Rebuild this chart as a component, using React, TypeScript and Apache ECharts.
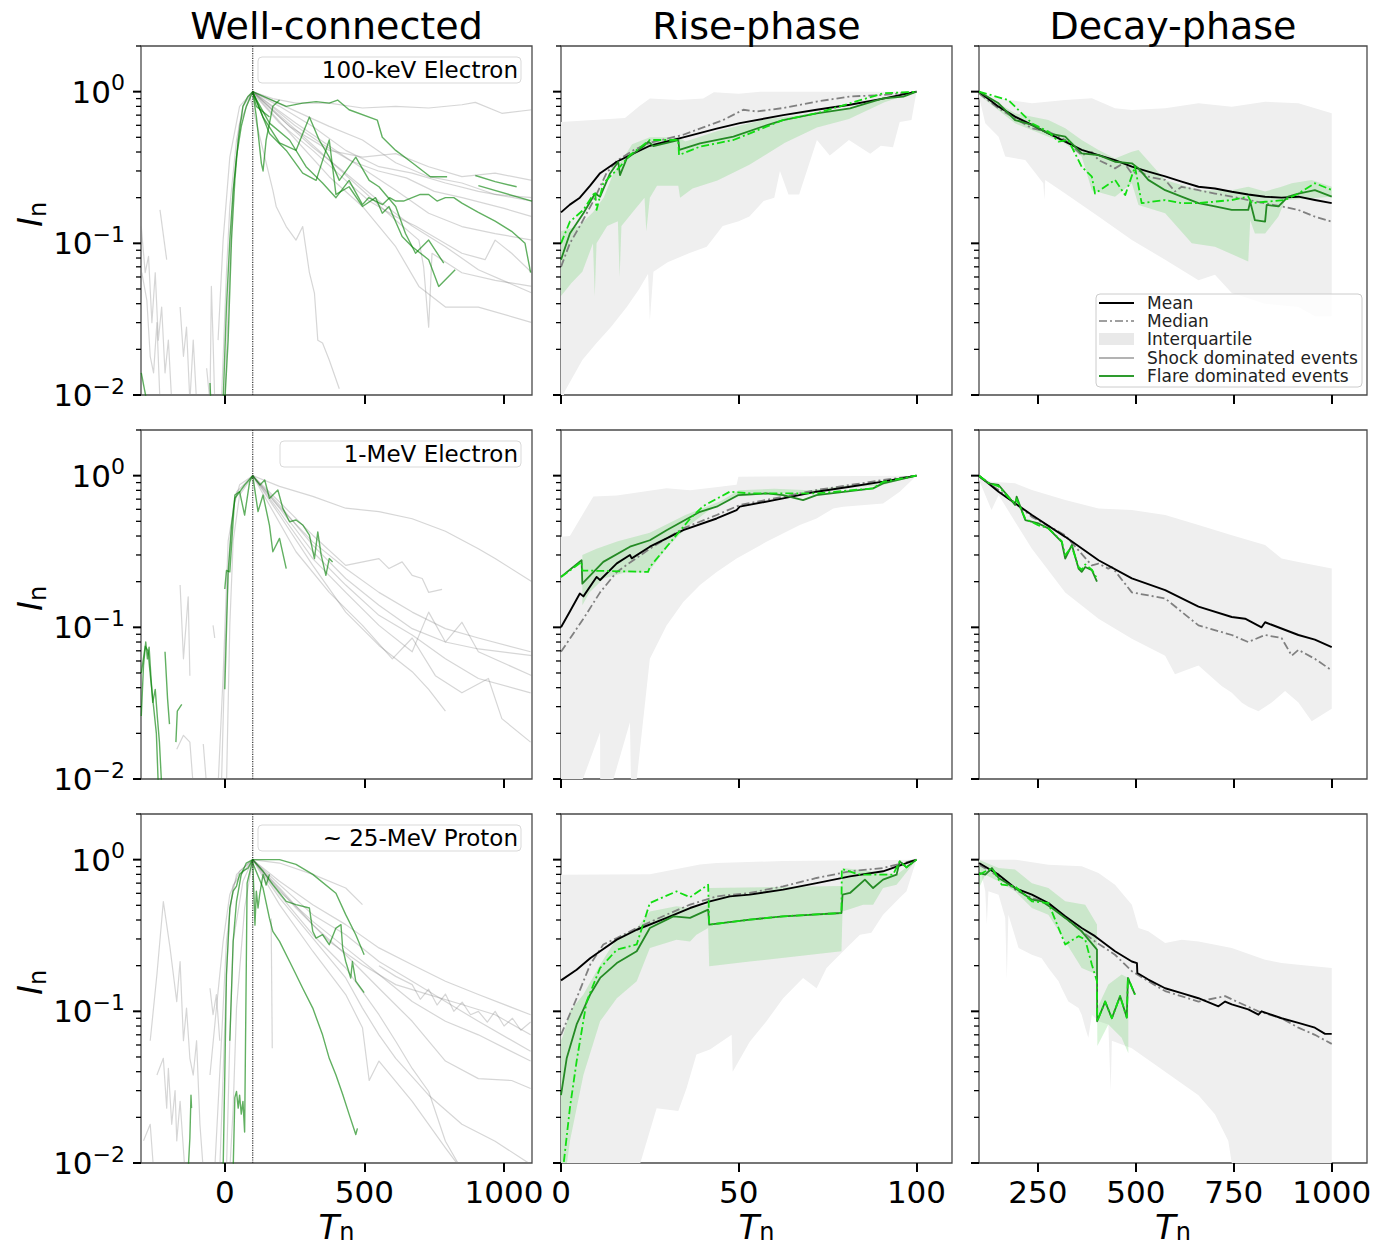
import React, { useEffect, useRef } from 'react';
import * as echarts from 'echarts';

type Pt = [number, number];

const FONT = '"DejaVu Sans", "Liberation Sans", sans-serif';

// ---------------- Text ----------------
const COLUMN_TITLES = ['Well-connected', 'Rise-phase', 'Decay-phase'];
const PANEL_LABELS = ['100-keV Electron', '1-MeV Electron', '~ 25-MeV Proton'];
const LEGEND_LABELS = ['Mean', 'Median', 'Interquartile', 'Shock dominated events', 'Flare dominated events'];

// ---------------- Axes ----------------
const X_RANGES: [number, number][] = [[-300, 1100], [0, 110], [100, 1090]];
const X_TICKS = [[0, 500, 1000], [0, 50, 100], [250, 500, 750, 1000]];
const Y_MIN = 0.01;
const Y_MAX = 2;
const Y_MAJOR = [0.01, 0.1, 1];
const Y_MINOR = [0.02, 0.03, 0.04, 0.05, 0.06, 0.07, 0.08, 0.09, 0.2, 0.3, 0.4, 0.5, 0.6, 0.7, 0.8, 0.9, 2];
const PEAK_T = 100;

// ---------------- Well-connected: 100-keV electrons ----------------
const WC_E100_SHOCK: Pt[][] = [
  [[100, 1], [172, 0.9], [255, 0.84], [374, 0.84], [493, 0.78], [612, 0.8], [730, 0.78], [849, 0.82], [897, 0.85], [992, 0.72], [1100, 0.76]],
  [[100, 1], [196, 0.8], [315, 0.59], [433, 0.41], [552, 0.32], [671, 0.29], [790, 0.25], [908, 0.22], [1100, 0.19]],
  [[100, 1], [196, 0.68], [315, 0.43], [433, 0.29], [552, 0.19], [671, 0.13], [790, 0.095], [908, 0.067], [1100, 0.047]],
  [[100, 1], [255, 0.48], [374, 0.275], [493, 0.175], [612, 0.095], [695, 0.052], [790, 0.038], [908, 0.038], [1100, 0.03]],
  [[89, 0.95], [172, 0.224], [184, 0.175], [220, 0.129], [255, 0.105], [279, 0.129], [303, 0.064], [321, 0.047], [333, 0.023], [350, 0.022], [374, 0.017], [410, 0.011]],
  [[100, 1], [255, 0.62], [433, 0.37], [612, 0.224], [730, 0.158], [849, 0.129], [968, 0.116], [1100, 0.105]],
  [[100, 1], [255, 0.56], [374, 0.354], [493, 0.224], [612, 0.142], [695, 0.105], [712, 0.07], [730, 0.028], [742, 0.086], [849, 0.064], [968, 0.057], [1100, 0.052]],
  [[100, 1], [232, 0.59], [374, 0.41], [493, 0.37], [612, 0.39], [730, 0.32], [849, 0.275], [968, 0.29], [1100, 0.26]],
  [[100, 0.98], [196, 0.62], [315, 0.41], [433, 0.26], [517, 0.19], [612, 0.15], [683, 0.13], [849, 0.086], [932, 0.078], [968, 0.105], [1027, 0.086], [1100, 0.064]],
  [[100, 1], [374, 0.59], [493, 0.48], [612, 0.34], [730, 0.275], [849, 0.25], [968, 0.21], [1100, 0.2]],
  [[100, 1], [150, 0.85], [250, 0.6], [350, 0.45], [450, 0.35], [550, 0.3], [650, 0.27], [750, 0.22], [850, 0.2], [1000, 0.17], [1100, 0.15]],
  [[-12, 0.009], [6, 0.064], [18, 0.175], [42, 0.48], [65, 0.8], [100, 1]],
  [[0, 0.009], [12, 0.038], [30, 0.22], [53, 0.62], [100, 1]],
  [[-24, 0.023], [-6, 0.105], [18, 0.37], [53, 0.8], [100, 1]],
  [[-299, 0.129], [-285, 0.064], [-273, 0.082], [-261, 0.03], [-249, 0.064], [-238, 0.023], [-226, 0.038], [-214, 0.014], [-202, 0.023], [-190, 0.009]],
  [[-297, 0.064], [-279, 0.042], [-267, 0.018], [-255, 0.014], [-243, 0.03], [-232, 0.009]],
  [[-232, 0.166], [-208, 0.078]],
  [[-160, 0.038], [-148, 0.018], [-137, 0.028], [-125, 0.009], [-113, 0.023], [-101, 0.009]],
  [[-65, 0.015], [-53, 0.009], [-48, 0.052], [-42, 0.023], [-36, 0.009]],
];
const WC_E100_FLARE: Pt[][] = [
  [[100, 1], [220, 0.8], [279, 0.84], [327, 0.86], [374, 0.84], [404, 0.88], [445, 0.76], [546, 0.65], [564, 0.5], [612, 0.41], [671, 0.34], [736, 0.275], [796, 0.275]],
  [[897, 0.28], [968, 0.255], [1045, 0.236]],
  [[908, 0.24], [1100, 0.19]],
  [[100, 0.98], [160, 0.62], [232, 0.48], [291, 0.32], [350, 0.25], [398, 0.2], [445, 0.26], [493, 0.18], [515, 0.2], [540, 0.19], [565, 0.18], [590, 0.2], [612, 0.19], [640, 0.19], [671, 0.2], [700, 0.21], [730, 0.21], [760, 0.19], [790, 0.2], [820, 0.2], [849, 0.184], [908, 0.16], [968, 0.14], [1027, 0.12], [1075, 0.1], [1095, 0.064]],
  [[100, 1], [137, 0.68], [196, 0.46], [255, 0.41], [303, 0.68], [338, 0.48], [374, 0.37], [410, 0.26], [469, 0.37], [517, 0.26], [552, 0.236], [612, 0.175], [647, 0.116], [683, 0.086], [730, 0.105], [784, 0.074]],
  [[100, 1], [160, 0.53], [220, 0.41], [279, 0.29], [327, 0.26], [374, 0.48], [398, 0.21], [445, 0.236], [493, 0.175], [540, 0.2], [564, 0.158], [588, 0.175], [635, 0.111], [671, 0.095], [730, 0.078], [766, 0.052], [825, 0.067]],
  [[-6, 0.009], [6, 0.038], [18, 0.105], [30, 0.224], [42, 0.373], [59, 0.59], [77, 0.8], [100, 1], [113, 0.684], [131, 0.337], [137, 0.3], [148, 0.48], [172, 0.8], [196, 0.88]],
  [[0, 0.009], [12, 0.023], [24, 0.105], [36, 0.26], [48, 0.48], [65, 0.8], [83, 0.93], [100, 1], [113, 0.8], [160, 0.68]],
  [[-299, 0.014], [-279, 0.009]],
  [[-53, 0.012], [-50, 0.009]],
];

// ---------------- Well-connected: 1-MeV electrons ----------------
const WC_E1M_SHOCK: Pt[][] = [
  [[100, 1], [196, 0.85], [315, 0.73], [433, 0.61], [552, 0.58], [671, 0.52], [790, 0.43], [908, 0.33], [968, 0.284], [1100, 0.2]],
  [[100, 1], [196, 0.67], [315, 0.405], [433, 0.256], [552, 0.284], [588, 0.244], [635, 0.27], [671, 0.22], [707, 0.21], [730, 0.17], [778, 0.178]],
  [[100, 1], [196, 0.64], [315, 0.348], [433, 0.21], [552, 0.14], [671, 0.098], [790, 0.08], [908, 0.072], [1100, 0.065]],
  [[100, 1], [196, 0.578], [315, 0.284], [433, 0.17], [552, 0.103], [671, 0.069], [730, 0.126], [790, 0.08], [849, 0.108], [908, 0.069], [1100, 0.048]],
  [[100, 1], [196, 0.55], [315, 0.256], [433, 0.126], [552, 0.076], [671, 0.051], [730, 0.039], [790, 0.028]],
  [[100, 1], [255, 0.315], [374, 0.17], [493, 0.103], [600, 0.062], [671, 0.085], [754, 0.048], [849, 0.037], [944, 0.046], [992, 0.025], [1095, 0.0175]],
  [[100, 1], [196, 0.61], [315, 0.315], [433, 0.19], [552, 0.12], [671, 0.089], [790, 0.062], [908, 0.046], [1095, 0.037]],
  [[100, 1], [196, 0.62], [315, 0.366], [433, 0.244], [552, 0.17], [671, 0.126], [790, 0.098], [908, 0.085], [1095, 0.069]],
  [[-12, 0.009], [0, 0.062], [12, 0.22], [30, 0.61], [53, 0.87], [100, 1]],
  [[-24, 0.009], [-6, 0.048], [12, 0.37], [42, 0.78], [100, 1]],
  [[6, 0.009], [18, 0.103], [30, 0.37], [53, 0.745], [100, 1]],
  [[-160, 0.19], [-148, 0.062], [-131, 0.159], [-125, 0.048]],
  [[-172, 0.0157], [-148, 0.0194], [-125, 0.0175], [-113, 0.009]],
  [[-42, 0.103], [-36, 0.085]],
  [[-77, 0.017], [-65, 0.009]],
];
const WC_E1M_FLARE: Pt[][] = [
  [[0, 0.039], [12, 0.232], [24, 0.47], [36, 0.71], [53, 0.78], [71, 0.868], [100, 1], [119, 0.58], [137, 0.745], [160, 0.47], [172, 0.315], [196, 0.386], [220, 0.244]],
  [[100, 1], [126, 0.868], [143, 0.936], [160, 0.708], [190, 0.804], [208, 0.608], [232, 0.497], [255, 0.51], [279, 0.473], [303, 0.405], [321, 0.284], [333, 0.426], [345, 0.3], [362, 0.22], [374, 0.284], [386, 0.27]],
  [[0, 0.179], [6, 0.237], [18, 0.232], [36, 0.745], [53, 0.784], [71, 0.55], [89, 0.91], [100, 1]],
  [[-299, 0.026], [-291, 0.056], [-283, 0.08], [-277, 0.062], [-271, 0.074], [-264, 0.046], [-258, 0.032], [-249, 0.039], [-241, 0.025], [-234, 0.0175], [-226, 0.009]],
  [[-299, 0.05], [-285, 0.075], [-275, 0.07], [-265, 0.045], [-255, 0.03], [-245, 0.02], [-238, 0.009]],
  [[-214, 0.069], [-205, 0.034], [-198, 0.023]],
  [[-175, 0.0175], [-170, 0.028], [-154, 0.031]],
];

// ---------------- Well-connected: ~25-MeV protons ----------------
const WC_P25_SHOCK: Pt[][] = [
  [[100, 1], [196, 0.95], [315, 0.8], [433, 0.65], [493, 0.505]],
  [[100, 1], [196, 0.72], [315, 0.505], [433, 0.373], [552, 0.262], [671, 0.203], [790, 0.158], [908, 0.129], [1095, 0.095]],
  [[100, 1], [196, 0.684], [315, 0.434], [433, 0.32], [552, 0.213], [671, 0.158], [790, 0.116], [908, 0.086], [1095, 0.0545]],
  [[100, 1], [196, 0.618], [315, 0.392], [433, 0.262], [552, 0.175], [671, 0.116], [790, 0.086], [908, 0.07], [1095, 0.047]],
  [[100, 1], [196, 0.588], [315, 0.32], [433, 0.193], [552, 0.095], [612, 0.0635], [671, 0.042], [730, 0.0296], [790, 0.0139], [849, 0.009]],
  [[100, 1], [196, 0.559], [315, 0.304], [433, 0.166], [493, 0.105], [552, 0.07], [612, 0.049], [730, 0.028], [849, 0.018], [968, 0.0139], [1095, 0.0098]],
  [[100, 1], [196, 0.65], [315, 0.373], [433, 0.236], [552, 0.142], [671, 0.086], [790, 0.047], [908, 0.036], [1027, 0.035], [1095, 0.031]],
  [[100, 1], [255, 0.48], [374, 0.289], [493, 0.203], [612, 0.15], [730, 0.129], [849, 0.111], [968, 0.095], [1095, 0.07]],
  [[100, 1], [196, 0.505], [315, 0.249], [433, 0.129], [493, 0.078], [517, 0.035], [552, 0.047], [671, 0.0255], [790, 0.0126], [849, 0.009]],
  [[552, 0.2], [612, 0.17], [671, 0.15], [700, 0.12], [730, 0.14], [760, 0.11], [790, 0.13], [820, 0.1], [850, 0.115], [880, 0.095], [908, 0.1], [940, 0.085], [968, 0.1], [1000, 0.08], [1030, 0.09], [1060, 0.075], [1095, 0.085]],
  [[-18, 0.009], [-6, 0.038], [6, 0.175], [18, 0.48], [42, 0.8], [100, 1]],
  [[-36, 0.009], [-12, 0.064], [6, 0.29], [30, 0.68], [100, 1]],
  [[-53, 0.038], [-30, 0.105], [-6, 0.289], [18, 0.59], [53, 0.84], [100, 1]],
  [[6, 0.009], [18, 0.064], [30, 0.289], [65, 0.72], [100, 1]],
  [[18, 0.009], [30, 0.023], [42, 0.105], [71, 0.48], [100, 1]],
  [[-267, 0.064], [-243, 0.175], [-220, 0.53], [-196, 0.262], [-172, 0.116], [-160, 0.213], [-148, 0.064], [-137, 0.105], [-125, 0.049], [-113, 0.038], [-101, 0.064], [-89, 0.018], [-77, 0.009]],
  [[-243, 0.038], [-220, 0.049], [-208, 0.023], [-202, 0.042], [-190, 0.018], [-178, 0.03], [-172, 0.014], [-160, 0.0255], [-143, 0.009]],
  [[-291, 0.014], [-267, 0.018], [-255, 0.009]],
  [[-53, 0.142], [-42, 0.095], [-30, 0.129], [-18, 0.064]],
  [[166, 0.41], [170, 0.057]],
];
const WC_P25_FLARE: Pt[][] = [
  [[18, 0.064], [30, 0.29], [42, 0.53], [59, 0.8], [77, 0.95], [100, 1], [196, 1], [255, 0.93], [315, 0.8], [398, 0.6], [433, 0.434], [469, 0.32], [499, 0.236]],
  [[100, 0.95], [137, 0.65], [160, 0.41], [172, 0.337], [196, 0.289], [232, 0.213], [255, 0.175], [279, 0.142], [315, 0.105], [350, 0.07], [374, 0.049], [398, 0.038], [422, 0.0284], [445, 0.021], [469, 0.0154], [475, 0.0169]],
  [[100, 1], [137, 0.838], [172, 0.684], [220, 0.531], [255, 0.505], [303, 0.48], [315, 0.337], [327, 0.304], [350, 0.32], [374, 0.275], [398, 0.354], [416, 0.373], [422, 0.262], [433, 0.213], [451, 0.166], [457, 0.213], [469, 0.158], [499, 0.133]],
  [[-6, 0.009], [0, 0.038], [6, 0.175], [18, 0.48], [30, 0.62], [42, 0.67], [53, 0.8], [65, 0.84], [83, 0.88], [100, 1], [108, 0.37], [113, 0.62], [119, 0.48], [125, 0.59], [137, 0.8], [148, 0.68], [160, 0.8]],
  [[30, 0.009], [36, 0.027], [42, 0.0296], [48, 0.023], [53, 0.028], [59, 0.021], [65, 0.0255], [71, 0.016], [80, 0.7], [100, 1]],
  [[-131, 0.009], [-125, 0.0146], [-121, 0.028], [-119, 0.023]],
];

// ---------------- Rise phase ----------------
const RISE_E100_IQR_UP: Pt[] = [[0, 0.63], [18, 0.67], [22, 0.8], [25, 0.9], [33, 0.88], [40, 0.9], [43, 0.99], [50, 0.97], [56, 1.0], [100, 1.0]];
const RISE_E100_IQR_LO: Pt[] = [[0, 0.008], [1, 0.0105], [6, 0.017], [10, 0.022], [14, 0.028], [18.5, 0.038], [22, 0.05], [24.5, 0.063], [25, 0.031], [26, 0.065], [30, 0.075], [36, 0.086], [41, 0.095], [45.5, 0.13], [50, 0.14], [53, 0.15], [57, 0.19], [60, 0.2], [61.6, 0.3], [64, 0.21], [67, 0.21], [72, 0.48], [75.6, 0.38], [78, 0.42], [81, 0.48], [87, 0.39], [90, 0.44], [93.4, 0.43], [95.3, 0.63], [98.6, 0.65], [100, 1.0]];
const RISE_E100_FL_UP: Pt[] = [[0, 0.12], [5, 0.13], [9, 0.16], [12, 0.2], [15, 0.3], [18, 0.38], [20, 0.45], [25, 0.5], [33, 0.5], [35, 0.47], [44, 0.55], [58, 0.66], [72, 0.72], [82, 0.78], [91, 0.9], [100, 1.0]];
const RISE_E100_FL_LO: Pt[] = [[0, 0.045], [3, 0.055], [6, 0.065], [9, 0.1], [9.5, 0.045], [10, 0.1], [13, 0.13], [16, 0.14], [16.5, 0.06], [17, 0.13], [21, 0.17], [23.5, 0.2], [24, 0.12], [25, 0.2], [27, 0.24], [33, 0.24], [33.5, 0.2], [37, 0.23], [44, 0.26], [53, 0.33], [63, 0.46], [72, 0.58], [81, 0.66], [91, 0.85], [100, 1.0]];
const RISE_E100_MEAN: Pt[] = [[0, 0.16], [2.5, 0.18], [5.3, 0.2], [8.2, 0.24], [11, 0.29], [15.7, 0.345], [20.3, 0.39], [25, 0.44], [34.4, 0.5], [43.8, 0.57], [50.3, 0.62], [62.5, 0.7], [71.9, 0.76], [81.3, 0.82], [90.6, 0.9], [100, 1]];
const RISE_E100_MEDIAN: Pt[] = [[0, 0.07], [2.5, 0.1], [5.3, 0.13], [9.1, 0.19], [12.8, 0.29], [15.7, 0.35], [20.3, 0.41], [25, 0.46], [34.4, 0.52], [45.6, 0.65], [51.3, 0.76], [55, 0.74], [62.5, 0.78], [71.9, 0.86], [81.3, 0.93], [90.6, 0.95], [100, 1]];
const RISE_E100_FL_MEAN: Pt[] = [[0, 0.078], [2.5, 0.116], [6.3, 0.158], [9.6, 0.213], [11, 0.203], [13.8, 0.289], [16.1, 0.345], [16.6, 0.282], [18.5, 0.363], [23.1, 0.434], [24.6, 0.468], [26, 0.438], [33, 0.48], [33.3, 0.413], [39.1, 0.456], [48.5, 0.505], [57.8, 0.6], [62.5, 0.65], [71.9, 0.72], [81.3, 0.776], [90.6, 0.904], [96.3, 0.927], [100, 1]];
const RISE_E100_FL_MEDIAN: Pt[] = [[0, 0.1], [2.5, 0.139], [6.3, 0.166], [9.6, 0.219], [10, 0.166], [11.9, 0.249], [16.6, 0.32], [19.4, 0.382], [25, 0.48], [33, 0.48], [33.2, 0.382], [39.1, 0.434], [48.5, 0.48], [57.8, 0.588], [62.5, 0.65], [71.9, 0.72], [81.3, 0.838], [90.6, 0.975], [100, 1]];

const RISE_E1M_IQR_UP: Pt[] = [[0, 0.395], [2.5, 0.4], [9.1, 0.73], [15.7, 0.74], [29.7, 0.825], [36.3, 0.8], [49.4, 0.87], [49.9, 0.985], [100, 1]];
const RISE_E1M_IQR_LO: Pt[] = [[0, 0.005], [6.3, 0.0102], [11, 0.0203], [11.05, 0.005], [19.4, 0.0237], [19.9, 0.005], [25, 0.062], [29.7, 0.103], [34.4, 0.147], [39.1, 0.19], [43.8, 0.232], [49.4, 0.284], [57.8, 0.366], [67.2, 0.472], [71.9, 0.522], [76.6, 0.608], [79.4, 0.624], [90.6, 0.656], [95.3, 0.784], [100, 1]];
const RISE_E1M_FL_UP: Pt[] = [[6, 0.3], [10, 0.33], [16, 0.37], [25, 0.42], [35, 0.55], [45, 0.68], [50, 0.8], [60, 0.82], [70, 0.8], [80, 0.86], [90, 0.88], [96, 0.95], [100, 1]];
const RISE_E1M_FL_LO: Pt[] = [[6, 0.14], [8, 0.17], [12, 0.21], [18, 0.23], [24.5, 0.23], [30, 0.34], [36, 0.47], [42, 0.6], [50, 0.73], [60, 0.76], [70, 0.78], [80, 0.84], [90, 0.86], [96, 0.94], [100, 1]];
const RISE_E1M_MEAN: Pt[] = [[0, 0.1], [2.5, 0.127], [5.3, 0.167], [6.3, 0.16], [10, 0.215], [11, 0.205], [15.7, 0.264], [19.4, 0.3], [19.9, 0.285], [25, 0.34], [34.4, 0.437], [43.8, 0.522], [49.4, 0.593], [50.3, 0.625], [62.5, 0.708], [71.9, 0.784], [81.3, 0.845], [90.6, 0.913], [100, 1]];
const RISE_E1M_MEDIAN: Pt[] = [[0, 0.069], [6.3, 0.114], [11, 0.17], [15.7, 0.232], [25, 0.33], [34.4, 0.45], [43.8, 0.55], [50.3, 0.64], [62.5, 0.727], [71.9, 0.804], [81.3, 0.868], [90.6, 0.936], [100, 1]];
const RISE_E1M_FL_MEAN: Pt[] = [[0, 0.215], [5.8, 0.277], [6, 0.194], [11.9, 0.27], [19.4, 0.34], [25, 0.375], [29.7, 0.437], [39.1, 0.578], [43.8, 0.624], [49.9, 0.745], [57.8, 0.764], [62.5, 0.745], [68.1, 0.69], [71.9, 0.745], [87.8, 0.825], [90.6, 0.89], [100, 1]];
const RISE_E1M_FL_MEDIAN: Pt[] = [[0, 0.215], [5.8, 0.27], [6, 0.237], [24.5, 0.232], [25, 0.25], [36.3, 0.52], [40, 0.63], [47.5, 0.784], [53.1, 0.764], [62.5, 0.764], [71.9, 0.764], [87.8, 0.825], [90.6, 0.91], [100, 1]];

const RISE_P25_IQR_UP: Pt[] = [[0, 0.796], [25, 0.8], [39.1, 0.93], [43.8, 0.95], [62.5, 0.98], [100, 1]];
const RISE_P25_IQR_LO: Pt[] = [[0, 0.005], [22.2, 0.0098], [26.9, 0.023], [33, 0.022], [35.3, 0.031], [38.1, 0.052], [41.9, 0.056], [48, 0.07], [48.3, 0.04], [53.1, 0.063], [57.8, 0.086], [62.5, 0.122], [68.1, 0.166], [71.9, 0.142], [74.7, 0.193], [78.4, 0.236], [81.3, 0.276], [84.1, 0.32], [87.3, 0.33], [90.6, 0.434], [95.3, 0.56], [97.2, 0.62], [100, 1]];
const RISE_P25_FL_UP: Pt[] = [[0, 0.064], [0.66, 0.07], [2.5, 0.1], [6.3, 0.129], [11, 0.203], [15.7, 0.304], [21.3, 0.354], [25, 0.456], [32.5, 0.493], [36.3, 0.48], [41.4, 0.505], [41.7, 0.65], [60, 0.66], [78.9, 0.67], [79.2, 0.88], [85, 0.85], [94.4, 0.796], [100, 1]];
const RISE_P25_FL_LO: Pt[] = [[0, 0.005], [2.5, 0.0139], [6.3, 0.038], [11, 0.086], [15.7, 0.122], [21.3, 0.158], [25, 0.262], [32.5, 0.297], [36.3, 0.289], [38.1, 0.32], [41.4, 0.354], [41.7, 0.198], [53.1, 0.213], [78.9, 0.249], [79.2, 0.456], [85, 0.505], [87.8, 0.505], [90.6, 0.65], [94.4, 0.684], [100, 1]];
const RISE_P25_MEAN: Pt[] = [[0, 0.16], [4.4, 0.188], [8.2, 0.224], [11, 0.249], [15.7, 0.297], [21.3, 0.345], [29.7, 0.413], [36.3, 0.48], [41.9, 0.531], [47.5, 0.573], [53.1, 0.588], [62.5, 0.634], [71.9, 0.7], [81.3, 0.776], [90.6, 0.838], [100, 1]];
const RISE_P25_MEDIAN: Pt[] = [[0, 0.07], [4.4, 0.122], [8.2, 0.203], [11.9, 0.276], [15.7, 0.304], [21.3, 0.354], [29.7, 0.434], [36.3, 0.505], [43.8, 0.573], [53.1, 0.603], [62.5, 0.667], [71.9, 0.757], [81.3, 0.838], [90.6, 0.88], [100, 1]];
const RISE_P25_FL_MEAN: Pt[] = [[0, 0.028], [1.6, 0.049], [4.4, 0.082], [8.2, 0.129], [11, 0.166], [15.7, 0.208], [21.3, 0.249], [25, 0.354], [31.6, 0.423], [36.3, 0.413], [41.4, 0.468], [41.7, 0.373], [53.1, 0.402], [62.5, 0.423], [78.9, 0.445], [79.2, 0.588], [81.3, 0.603], [85.5, 0.738], [87.8, 0.65], [90.6, 0.738], [94.4, 0.796], [95.3, 0.975], [97.2, 0.89], [100, 1]];
const RISE_P25_FL_MEDIAN: Pt[] = [[0.3, 0.008], [2.5, 0.023], [4.4, 0.047], [7.2, 0.116], [11, 0.193], [15.7, 0.255], [21.3, 0.276], [25, 0.518], [32.5, 0.618], [36.3, 0.565], [41.4, 0.684], [41.7, 0.373], [53.1, 0.402], [62.5, 0.423], [78.9, 0.445], [79, 0.868], [84.1, 0.796], [93.4, 0.796], [95.3, 0.975], [97.2, 0.89], [100, 1]];

// ---------------- Decay phase ----------------
const DECAY_E100_IQR_UP: Pt[] = [[100, 1], [150, 0.904], [235, 0.838], [320, 0.88], [388, 0.904], [447, 0.776], [490, 0.757], [575, 0.776], [660, 0.838], [745, 0.796], [830, 0.859], [915, 0.838], [1000, 0.72]];
const DECAY_E100_IQR_LO: Pt[] = [[100, 0.927], [116, 0.618], [150, 0.505], [167, 0.373], [218, 0.354], [264, 0.249], [267, 0.193], [269, 0.262], [320, 0.213], [405, 0.15], [490, 0.105], [575, 0.078], [660, 0.057], [702, 0.062], [745, 0.047], [830, 0.04], [915, 0.038], [957, 0.033], [1000, 0.033]];
const DECAY_E100_FL_UP: Pt[] = [[100, 1], [192, 0.72], [277, 0.65], [320, 0.573], [362, 0.48], [405, 0.413], [447, 0.363], [490, 0.402], [507, 0.413], [575, 0.262], [660, 0.224], [745, 0.224], [787, 0.236], [830, 0.22], [872, 0.236], [898, 0.249], [949, 0.262], [1000, 0.236]];
const DECAY_E100_FL_LO: Pt[] = [[100, 0.95], [192, 0.618], [277, 0.505], [320, 0.456], [362, 0.373], [388, 0.224], [447, 0.203], [490, 0.249], [507, 0.179], [575, 0.158], [643, 0.1], [702, 0.095], [787, 0.076], [792, 0.142], [804, 0.116], [830, 0.116], [864, 0.15], [881, 0.193], [1000, 0.203]];
const DECAY_E100_MEAN: Pt[] = [[100, 1], [150, 0.796], [192, 0.684], [235, 0.603], [277, 0.531], [320, 0.468], [362, 0.413], [405, 0.382], [447, 0.354], [490, 0.32], [532, 0.297], [575, 0.276], [617, 0.255], [660, 0.236], [702, 0.23], [745, 0.219], [787, 0.21], [830, 0.203], [872, 0.2], [915, 0.203], [957, 0.193], [1000, 0.184]];
const DECAY_E100_MEDIAN: Pt[] = [[100, 0.975], [150, 0.776], [192, 0.667], [235, 0.573], [277, 0.545], [320, 0.48], [362, 0.382], [388, 0.4], [405, 0.354], [430, 0.33], [447, 0.312], [470, 0.34], [490, 0.289], [510, 0.3], [532, 0.275], [575, 0.262], [600, 0.22], [617, 0.236], [660, 0.224], [702, 0.213], [745, 0.203], [787, 0.193], [830, 0.184], [872, 0.175], [915, 0.166], [957, 0.15], [1000, 0.139]];
const DECAY_E100_FL_MEAN: Pt[] = [[100, 1], [150, 0.838], [192, 0.65], [235, 0.603], [277, 0.531], [320, 0.505], [362, 0.392], [405, 0.382], [447, 0.345], [490, 0.337], [507, 0.312], [532, 0.262], [575, 0.224], [617, 0.203], [660, 0.184], [702, 0.175], [745, 0.166], [787, 0.166], [792, 0.188], [804, 0.142], [830, 0.139], [834, 0.179], [864, 0.175], [889, 0.203], [915, 0.213], [957, 0.224], [1000, 0.203]];
const DECAY_E100_FL_MEDIAN: Pt[] = [[100, 1], [175, 0.88], [235, 0.618], [277, 0.545], [303, 0.468], [328, 0.48], [362, 0.32], [388, 0.275], [396, 0.213], [447, 0.262], [473, 0.208], [498, 0.32], [515, 0.184], [575, 0.193], [617, 0.184], [660, 0.184], [745, 0.193], [787, 0.203], [796, 0.184], [830, 0.188], [881, 0.193], [915, 0.213], [957, 0.249], [1000, 0.225]];

const DECAY_E1M_IQR_UP: Pt[] = [[100, 1], [132, 0.913], [192, 0.89], [235, 0.804], [320, 0.69], [405, 0.608], [490, 0.593], [575, 0.55], [660, 0.472], [745, 0.405], [830, 0.349], [872, 0.284], [915, 0.27], [1000, 0.244]];
const DECAY_E1M_IQR_LO: Pt[] = [[100, 0.936], [132, 0.593], [150, 0.745], [192, 0.497], [235, 0.33], [320, 0.17], [405, 0.114], [490, 0.084], [575, 0.065], [600, 0.049], [660, 0.056], [719, 0.041], [745, 0.037], [770, 0.032], [787, 0.03], [813, 0.028], [847, 0.032], [881, 0.038], [915, 0.032], [949, 0.024], [1000, 0.029]];
const DECAY_E1M_MEAN: Pt[] = [[100, 1], [150, 0.784], [235, 0.55], [320, 0.395], [405, 0.277], [490, 0.21], [575, 0.176], [660, 0.137], [745, 0.117], [779, 0.114], [821, 0.1], [830, 0.108], [915, 0.089], [957, 0.083], [1000, 0.074]];
const DECAY_E1M_MEDIAN: Pt[] = [[100, 0.985], [150, 0.804], [235, 0.535], [320, 0.405], [388, 0.256], [405, 0.263], [430, 0.244], [439, 0.25], [490, 0.17], [575, 0.155], [660, 0.103], [745, 0.089], [787, 0.08], [830, 0.089], [872, 0.085], [898, 0.065], [915, 0.071], [957, 0.062], [1000, 0.052]];
const DECAY_E1M_FL_MEAN: Pt[] = [[100, 1], [124, 0.89], [150, 0.868], [175, 0.727], [192, 0.64], [196, 0.727], [218, 0.51], [252, 0.484], [277, 0.449], [311, 0.366], [320, 0.284], [337, 0.349], [354, 0.244], [362, 0.232], [371, 0.25], [388, 0.238], [401, 0.2]];
const DECAY_E1M_FL_MEDIAN: Pt[] = [[100, 1], [124, 0.9], [150, 0.85], [175, 0.72], [192, 0.66], [196, 0.7], [218, 0.52], [252, 0.47], [277, 0.45], [311, 0.37], [320, 0.3], [337, 0.34], [354, 0.25], [362, 0.24], [371, 0.26], [388, 0.24], [401, 0.21]];

const DECAY_P25_IQR_UP: Pt[] = [[100, 1], [192, 1], [277, 0.927], [362, 0.904], [405, 0.817], [447, 0.684], [490, 0.505], [507, 0.354], [532, 0.337], [575, 0.282], [617, 0.296], [660, 0.289], [745, 0.262], [830, 0.219], [872, 0.208], [915, 0.203], [1000, 0.193]];
const DECAY_P25_IQR_LO: Pt[] = [[100, 0.95], [116, 0.618], [120, 0.373], [124, 0.618], [150, 0.588], [167, 0.413], [171, 0.162], [175, 0.434], [201, 0.262], [235, 0.236], [260, 0.224], [277, 0.193], [303, 0.158], [311, 0.142], [328, 0.116], [354, 0.105], [362, 0.095], [371, 0.078], [379, 0.067], [388, 0.095], [405, 0.086], [430, 0.082], [436, 0.03], [439, 0.064], [490, 0.057], [575, 0.04], [660, 0.028], [702, 0.021], [736, 0.014], [745, 0.01], [762, 0.007], [1000, 0.007]];
const DECAY_P25_FL_UP: Pt[] = [[100, 1], [150, 0.88], [192, 0.86], [235, 0.7], [277, 0.65], [320, 0.531], [371, 0.505], [401, 0.373], [402, 0.105], [430, 0.15], [464, 0.175], [481, 0.166]];
const DECAY_P25_FL_LO: Pt[] = [[100, 0.65], [116, 0.796], [150, 0.72], [192, 0.618], [235, 0.48], [277, 0.434], [320, 0.289], [362, 0.193], [401, 0.175], [402, 0.059], [430, 0.082], [464, 0.067], [481, 0.053]];
const DECAY_P25_MEAN: Pt[] = [[100, 0.95], [150, 0.796], [192, 0.65], [235, 0.588], [277, 0.518], [320, 0.423], [362, 0.354], [396, 0.313], [447, 0.249], [490, 0.213], [503, 0.208], [504, 0.179], [532, 0.162], [575, 0.142], [617, 0.132], [660, 0.122], [711, 0.108], [728, 0.116], [745, 0.111], [787, 0.103], [813, 0.095], [821, 0.1], [872, 0.09], [915, 0.084], [957, 0.078], [983, 0.071], [1000, 0.071]];
const DECAY_P25_MEDIAN: Pt[] = [[100, 0.927], [150, 0.776], [192, 0.634], [235, 0.559], [277, 0.518], [320, 0.413], [362, 0.337], [396, 0.289], [447, 0.236], [473, 0.203], [490, 0.184], [532, 0.158], [575, 0.136], [660, 0.116], [728, 0.126], [745, 0.12], [813, 0.1], [872, 0.09], [915, 0.078], [957, 0.07], [1000, 0.061]];
const DECAY_P25_FL_MEAN: Pt[] = [[100, 0.817], [116, 0.796], [133, 0.88], [150, 0.757], [192, 0.65], [235, 0.545], [260, 0.531], [286, 0.48], [320, 0.413], [362, 0.337], [401, 0.255], [401.5, 0.086], [422, 0.116], [439, 0.09], [460, 0.126], [477, 0.091], [480, 0.166], [498, 0.129]];
const DECAY_P25_FL_MEDIAN: Pt[] = [[100, 0.796], [133, 0.88], [158, 0.684], [192, 0.667], [235, 0.531], [277, 0.518], [320, 0.276], [354, 0.313], [371, 0.297], [388, 0.203], [401, 0.158], [401.5, 0.086], [422, 0.116], [439, 0.09], [460, 0.126], [477, 0.091], [480, 0.166], [498, 0.129]];

// ---------------- Panel assembly ----------------
const WC_PANELS = [
  { shock: WC_E100_SHOCK, flare: WC_E100_FLARE },
  { shock: WC_E1M_SHOCK, flare: WC_E1M_FLARE },
  { shock: WC_P25_SHOCK, flare: WC_P25_FLARE },
];
const STAT_PANELS = [
  [
    { iqrUp: RISE_E100_IQR_UP, iqrLo: RISE_E100_IQR_LO, flUp: RISE_E100_FL_UP, flLo: RISE_E100_FL_LO, mean: RISE_E100_MEAN, median: RISE_E100_MEDIAN, flMean: RISE_E100_FL_MEAN, flMedian: RISE_E100_FL_MEDIAN },
    { iqrUp: DECAY_E100_IQR_UP, iqrLo: DECAY_E100_IQR_LO, flUp: DECAY_E100_FL_UP, flLo: DECAY_E100_FL_LO, mean: DECAY_E100_MEAN, median: DECAY_E100_MEDIAN, flMean: DECAY_E100_FL_MEAN, flMedian: DECAY_E100_FL_MEDIAN },
  ],
  [
    { iqrUp: RISE_E1M_IQR_UP, iqrLo: RISE_E1M_IQR_LO, flUp: RISE_E1M_FL_UP, flLo: RISE_E1M_FL_LO, mean: RISE_E1M_MEAN, median: RISE_E1M_MEDIAN, flMean: RISE_E1M_FL_MEAN, flMedian: RISE_E1M_FL_MEDIAN },
    { iqrUp: DECAY_E1M_IQR_UP, iqrLo: DECAY_E1M_IQR_LO, flUp: null, flLo: null, mean: DECAY_E1M_MEAN, median: DECAY_E1M_MEDIAN, flMean: DECAY_E1M_FL_MEAN, flMedian: DECAY_E1M_FL_MEDIAN },
  ],
  [
    { iqrUp: RISE_P25_IQR_UP, iqrLo: RISE_P25_IQR_LO, flUp: RISE_P25_FL_UP, flLo: RISE_P25_FL_LO, mean: RISE_P25_MEAN, median: RISE_P25_MEDIAN, flMean: RISE_P25_FL_MEAN, flMedian: RISE_P25_FL_MEDIAN },
    { iqrUp: DECAY_P25_IQR_UP, iqrLo: DECAY_P25_IQR_LO, flUp: DECAY_P25_FL_UP, flLo: DECAY_P25_FL_LO, mean: DECAY_P25_MEAN, median: DECAY_P25_MEDIAN, flMean: DECAY_P25_FL_MEAN, flMedian: DECAY_P25_FL_MEDIAN },
  ],
];

// ---------------- Layout & style ----------------
const GRID_LEFT = [141, 561, 979];
const GRID_WIDTH = [391, 391, 388];
const GRID_TOP = [46, 430, 814];
const GRID_HEIGHT = 349;

const C_SHOCK = 'rgba(128,128,128,0.32)';
const C_FLARE = 'rgba(0,128,0,0.62)';
const C_IQR = '#efefef';
const C_FL_BAND = 'rgba(60,200,60,0.2)';
const C_MEAN = '#000000';
const C_MEDIAN = '#808080';
const C_FL_MEAN = '#248a24';
const C_FL_MEDIAN = '#12dd12';
const DASHDOT = [8, 3, 2, 3];

function supLabel(v: number): string {
  const e = Math.round(Math.log10(v));
  if (Math.abs(v / Math.pow(10, e) - 1) > 1e-6) return '';
  const s = e < 0 ? '\u2212' + String(-e) : String(e);
  return '{b|10}{s|' + s + '}';
}

function lineS(gi: number, data: Pt[], color: string, width: number, type: any, z: number) {
  return {
    type: 'line', xAxisIndex: gi, yAxisIndex: gi, data, symbol: 'none', showSymbol: false, silent: true, clip: true, z,
    lineStyle: { color, width, type, cap: 'butt', join: 'round' },
  };
}

function bandS(gi: number, up: Pt[], lo: Pt[], fill: string, z: number) {
  return {
    type: 'custom', xAxisIndex: gi, yAxisIndex: gi, silent: true, clip: true, z,
    data: [up[up.length - 1]],
    renderItem: (params: any, api: any) => {
      const pts = up.map((p) => api.coord(p)).concat(lo.slice().reverse().map((p) => api.coord(p)));
      const cs = params.coordSys;
      return {
        type: 'polygon', shape: { points: pts }, style: { fill, stroke: null },
        clipPath: { type: 'rect', shape: { x: cs.x, y: cs.y, width: cs.width, height: cs.height } },
      };
    },
  };
}

function buildOption() {
  const grids: any[] = [];
  const xAxes: any[] = [];
  const yAxes: any[] = [];
  const series: any[] = [];

  for (let r = 0; r < 3; r++) {
    for (let c = 0; c < 3; c++) {
      const gi = r * 3 + c;
      grids.push({
        left: GRID_LEFT[c], top: GRID_TOP[r], width: GRID_WIDTH[c], height: GRID_HEIGHT,
        show: true, borderColor: '#4a4a4a', borderWidth: 1.3, backgroundColor: 'transparent',
        containLabel: false,
      });
      xAxes.push({
        gridIndex: gi, type: 'value', min: X_RANGES[c][0], max: X_RANGES[c][1],
        axisLine: { show: false }, splitLine: { show: false },
        axisTick: { show: true, customValues: X_TICKS[c], length: 9, inside: false, lineStyle: { color: '#000', width: 2 } },
        axisLabel: {
          show: r === 2, customValues: X_TICKS[c], fontSize: 31, color: '#000', fontFamily: FONT, margin: 12,
          lineHeight: 34, formatter: (v: number) => String(v),
        },
      });
      yAxes.push({
        gridIndex: gi, type: 'log', logBase: 10, min: Y_MIN, max: Y_MAX,
        axisLine: { show: false }, splitLine: { show: false }, axisTick: { show: false },
        minorTick: { show: false },
        axisLabel: {
          show: c === 0, margin: 16, formatter: supLabel,
          rich: {
            b: { fontSize: 31, fontFamily: FONT, color: '#000', lineHeight: 40 },
            s: { fontSize: 22, fontFamily: FONT, color: '#000', lineHeight: 20, verticalAlign: 'top' },
          },
        },
      });

      // y ticks (major + minor) through the axis scale
      const xmin = X_RANGES[c][0];
      series.push({
        type: 'custom', xAxisIndex: gi, yAxisIndex: gi, silent: true, clip: false, z: 6,
        data: [[xmin, 1]],
        renderItem: (params: any, api: any) => {
          const children: any[] = [];
          Y_MAJOR.forEach((v) => {
            const p = api.coord([xmin, v]);
            children.push({ type: 'line', shape: { x1: p[0] - 8, y1: p[1], x2: p[0], y2: p[1] }, style: { stroke: '#000', lineWidth: 2 } });
          });
          Y_MINOR.forEach((v) => {
            const p = api.coord([xmin, v]);
            children.push({ type: 'line', shape: { x1: p[0] - 5, y1: p[1], x2: p[0], y2: p[1] }, style: { stroke: '#000', lineWidth: 1.3 } });
          });
          return { type: 'group', children };
        },
      });

      if (c === 0) {
        const panel = WC_PANELS[r];
        panel.shock.forEach((ln) => series.push(lineS(gi, ln, C_SHOCK, 1.2, 'solid', 2)));
        panel.flare.forEach((ln) => series.push(lineS(gi, ln, C_FLARE, 1.4, 'solid', 3)));
        series.push(lineS(gi, [[PEAK_T, Y_MIN], [PEAK_T, Y_MAX]], '#333', 1.2, 'dotted', 4));
      } else {
        const p: any = STAT_PANELS[r][c - 1];
        series.push(bandS(gi, p.iqrUp, p.iqrLo, C_IQR, 1));
        if (p.flUp) series.push(bandS(gi, p.flUp, p.flLo, C_FL_BAND, 1));
        series.push(lineS(gi, p.median, C_MEDIAN, 1.8, DASHDOT, 3));
        series.push(lineS(gi, p.mean, C_MEAN, 1.9, 'solid', 3));
        series.push(lineS(gi, p.flMean, C_FL_MEAN, 1.8, 'solid', 3));
        series.push(lineS(gi, p.flMedian, C_FL_MEDIAN, 1.8, DASHDOT, 3));
      }
    }
  }

  const graphic: any[] = [];
  COLUMN_TITLES.forEach((t, c) => {
    graphic.push({
      type: 'text', x: GRID_LEFT[c] + GRID_WIDTH[c] / 2, y: 26, z: 50,
      style: { text: t, font: '38px ' + FONT, fill: '#000', align: 'center', verticalAlign: 'middle', textAlign: 'center', textVerticalAlign: 'middle' },
    });
  });
  for (let c = 0; c < 3; c++) {
    graphic.push({
      type: 'text', x: GRID_LEFT[c] + GRID_WIDTH[c] / 2, y: 1227, z: 50,
      style: {
        text: '{i|T}{s|n}', align: 'center', verticalAlign: 'middle', textAlign: 'center', textVerticalAlign: 'middle',
        rich: {
          i: { fontSize: 34, fontStyle: 'italic', fontFamily: FONT, fill: '#000', lineHeight: 34 },
          s: { fontSize: 24, fontFamily: FONT, fill: '#000', lineHeight: 12, verticalAlign: 'bottom' },
        },
      },
    });
  }
  for (let r = 0; r < 3; r++) {
    graphic.push({
      type: 'text', x: 30, y: GRID_TOP[r] + GRID_HEIGHT / 2 - 6, rotation: Math.PI / 2, z: 50,
      style: {
        text: '{i|I}{s|n}', align: 'center', verticalAlign: 'middle', textAlign: 'center', textVerticalAlign: 'middle',
        rich: {
          i: { fontSize: 34, fontStyle: 'italic', fontFamily: FONT, fill: '#000', lineHeight: 40 },
          s: { fontSize: 24, fontFamily: FONT, fill: '#000', lineHeight: 20, verticalAlign: 'bottom' },
        },
      },
    });
  }
  const LABEL_BOX = [[258, 57, 263], [280, 441, 241], [258, 825, 263]];
  PANEL_LABELS.forEach((t, r) => {
    const [bx, by, bw] = LABEL_BOX[r];
    graphic.push({
      type: 'rect', x: bx, y: by, z: 40, shape: { x: 0, y: 0, width: bw, height: 26, r: 4 },
      style: { fill: 'rgba(255,255,255,0.8)', stroke: '#d9d9d9', lineWidth: 1 },
    });
    graphic.push({
      type: 'text', x: bx + bw - 3, y: by + 13, z: 41,
      style: { text: t, font: '23px ' + FONT, fill: '#000', align: 'right', verticalAlign: 'middle', textAlign: 'right', textVerticalAlign: 'middle' },
    });
  });
  const LX = 1096, LY = 294;
  graphic.push({
    type: 'rect', x: LX, y: LY, z: 40, shape: { x: 0, y: 0, width: 266, height: 93, r: 4 },
    style: { fill: 'rgba(255,255,255,0.8)', stroke: '#cccccc', lineWidth: 1 },
  });
  const rowY = [303, 321, 339, 358, 376];
  const handles = [
    { stroke: C_MEAN, lineWidth: 1.9, lineDash: null },
    { stroke: C_MEDIAN, lineWidth: 1.6, lineDash: DASHDOT },
    null,
    { stroke: '#9a9a9a', lineWidth: 1.5, lineDash: null },
    { stroke: '#2e9b2e', lineWidth: 1.8, lineDash: null },
  ];
  LEGEND_LABELS.forEach((t, i) => {
    const h = handles[i];
    if (h) {
      graphic.push({
        type: 'line', z: 41, shape: { x1: 1099, y1: rowY[i], x2: 1134, y2: rowY[i] },
        style: { stroke: h.stroke, lineWidth: h.lineWidth, lineDash: h.lineDash || undefined },
      });
    } else {
      graphic.push({ type: 'rect', z: 41, shape: { x: 1099, y: rowY[i] - 6, width: 35, height: 12 }, style: { fill: '#e9e9e9' } });
    }
    graphic.push({
      type: 'text', x: 1147, y: rowY[i], z: 41,
      style: { text: t, font: '17px ' + FONT, fill: '#222', align: 'left', verticalAlign: 'middle', textAlign: 'left', textVerticalAlign: 'middle' },
    });
  });

  return { animation: false, backgroundColor: '#ffffff', grid: grids, xAxis: xAxes, yAxis: yAxes, series, graphic };
}

export default function App() {
  const ref = useRef<HTMLDivElement>(null);
  useEffect(() => {
    document.body.style.margin = '0';
    document.body.style.overflow = 'hidden';
    if (!ref.current) return;
    const chart = echarts.init(ref.current, undefined, { renderer: 'svg' });
    chart.setOption(buildOption() as any);
    return () => chart.dispose();
  }, []);
  return <div ref={ref} style={{ width: 1389, height: 1248 }} />;
}
